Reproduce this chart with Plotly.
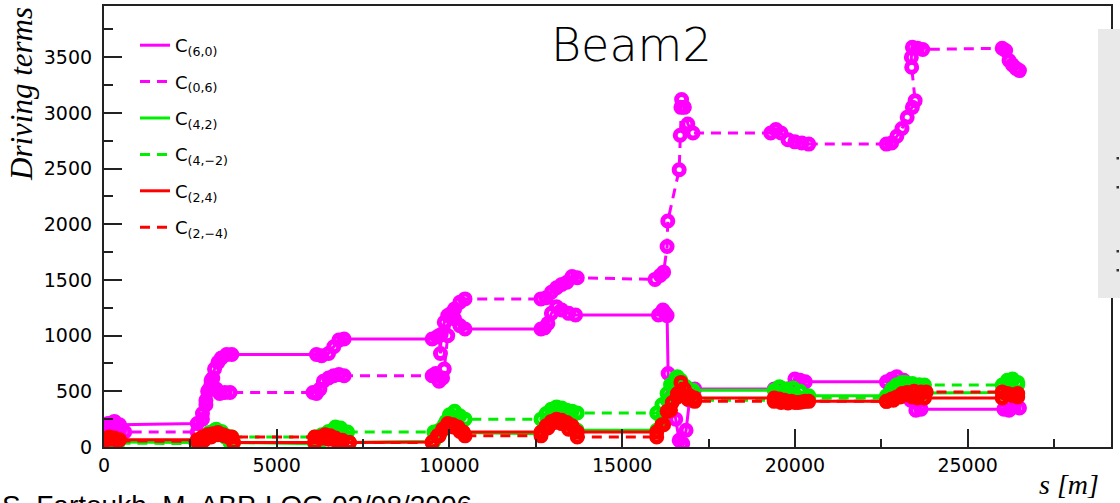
import plotly.graph_objects as go

# ---------------- data ----------------
s60 = [0, 120, 300, 450, 2700, 2850, 2950, 3050, 3100, 3200, 3300, 3400, 3550, 3700,
       6150, 6300, 6500, 6650, 6800, 6950,
       9500, 9650, 9700, 9740, 9760, 9850, 9950, 10050, 10150, 10300, 10450,
       12650, 12750, 12850, 12950, 13100, 13250, 13450, 13650,
       16050, 16180, 16250, 16300, 16330, 16420, 16550, 16650, 16750, 16850, 16950, 17100,
       19400, 19600, 19800, 20000, 20150, 20300,
       22650, 22800, 22950, 23150, 23350, 23500, 23650,
       26050, 26200, 26350, 26500]
v60 = [200, 210, 230, 200, 210, 300, 420, 520, 600, 700, 760, 800, 830, 830,
       830, 820, 840, 900, 960, 970,
       970, 990, 1000, 840, 1010, 1120, 1180, 1200, 1150, 1090, 1060,
       1060, 1070, 1110, 1200, 1260, 1230, 1200, 1185,
       1185, 1230, 1200, 1180, 660, 450, 250, 60, 30, 150, 420, 520,
       520, 530, 520, 610, 600, 585,
       585, 610, 630, 600, 420, 330, 340,
       340, 330, 360, 350]

s06 = [0, 150, 300, 450, 600, 2700, 2850, 2950, 3000, 3100, 3150, 3250, 3350, 3500, 3650,
       6050, 6150, 6250, 6350, 6500, 6650, 6800, 6950,
       9500, 9600, 9700, 9800, 9850, 9950, 10050, 10150, 10300, 10450,
       12650, 12800, 12950, 13100, 13250, 13400, 13550, 13700,
       15950, 16100, 16200, 16300, 16320, 16650, 16680, 16700, 16720, 16800, 16900, 17050,
       19300, 19450, 19600, 19800, 20000, 20200, 20400,
       22650, 22800, 22950, 23100, 23250, 23400, 23480, 23380, 23370, 23400, 23550, 23700,
       26000, 26100, 26200, 26300, 26400, 26500]
v06 = [130, 200, 180, 140, 135, 135, 250, 380, 500, 560, 620, 520, 480, 490, 490,
       490, 480, 520, 590, 620, 640, 650, 640,
       640, 660, 590, 620, 700, 1000, 1180, 1240, 1300, 1330,
       1330, 1340, 1390, 1430, 1460, 1480, 1530, 1520,
       1505, 1540, 1570, 1800, 2030, 2490, 2800, 3050, 3120, 3050, 2900, 2820,
       2820, 2850, 2820, 2760, 2740, 2730, 2720,
       2720, 2730, 2790, 2860, 2960, 3050, 3110, 3410, 3500, 3590, 3580, 3570,
       3580, 3560, 3470, 3430, 3400, 3380]

s42 = [0, 200, 400, 2700, 2900, 3050, 3200, 3350, 3500, 3650,
       6100, 6300, 6500, 6700, 6900, 7100,
       9550, 9750, 9900, 10050, 10200, 10400,
       12650, 12850, 13000, 13150, 13300, 13500, 13700,
       16000, 16150, 16300, 16400, 16550, 16700, 16850, 17050,
       19400, 19550, 19750, 19950, 20150, 20400,
       22650, 22800, 22950, 23100, 23300, 23500, 23700,
       26000, 26150, 26300, 26450]
v42 = [40, 60, 45, 40, 90, 130, 150, 140, 90, 40,
       30, 60, 120, 160, 120, 40,
       50, 130, 230, 280, 270, 130,
       120, 240, 310, 330, 300, 250, 150,
       150, 250, 420, 560, 620, 600, 540, 510,
       510, 540, 520, 530, 500, 460,
       460, 520, 560, 580, 560, 540, 485,
       490, 570, 600, 560]

s4m2 = [0, 200, 400, 2700, 2900, 3100, 3250, 3400, 3550, 3700,
        6100, 6300, 6500, 6700, 6850, 7050,
        9550, 9700, 9850, 10000, 10150, 10300, 10450,
        12650, 12800, 12950, 13100, 13250, 13400, 13550, 13700,
        16000, 16150, 16300, 16450, 16600, 16750, 16900, 17050,
        19400, 19600, 19800, 20000, 20200, 20400,
        22650, 22850, 23000, 23200, 23400, 23600, 23750,
        26000, 26150, 26300, 26450]
v4m2 = [30, 50, 35, 30, 70, 120, 160, 140, 100, 90,
        90, 110, 140, 180, 170, 135,
        135, 150, 200, 290, 320, 280, 250,
        250, 300, 340, 360, 350, 330, 320, 305,
        305, 380, 480, 560, 630, 560, 470, 420,
        420, 450, 460, 440, 430, 440,
        440, 490, 540, 580, 570, 560, 556,
        556, 600, 610, 580]

s24 = [0, 150, 300, 450, 2700, 2850, 3000, 3150, 3300, 3450, 3600, 3750,
       6100, 6250, 6400, 6550, 6700, 6900, 7100,
       9500, 9650, 9800, 9950, 10100, 10250, 10400,
       12650, 12800, 12950, 13100, 13250, 13400, 13550, 13700,
       16000, 16150, 16300, 16450, 16600, 16700, 16800, 16950, 17100,
       19400, 19550, 19700, 19900, 20100, 20300,
       22650, 22800, 22950, 23100, 23250, 23400, 23550, 23750,
       26000, 26150, 26300, 26450]
v24 = [70, 90, 80, 65, 65, 90, 110, 120, 130, 110, 90, 40,
       40, 90, 110, 100, 80, 60, 40,
       45, 100, 160, 210, 200, 180, 135,
       135, 190, 230, 250, 240, 220, 190, 135,
       135, 200, 320, 400, 480, 580, 520, 460, 440,
       440, 430, 420, 410, 400, 410,
       410, 430, 450, 480, 470, 450, 440, 440,
       440, 480, 470, 450]

s2m4 = [0, 200, 400, 2700, 2900, 3100, 3300, 3500, 3700,
        6100, 6300, 6500, 6700, 6900, 7100,
        9500, 9700, 9900, 10100, 10300, 10450,
        12650, 12850, 13050, 13250, 13450, 13700,
        16000, 16200, 16400, 16600, 16750, 16900, 17100,
        19400, 19600, 19800, 20000, 20200, 20400,
        22650, 22850, 23050, 23250, 23450, 23650, 23800,
        26000, 26150, 26300, 26450]
v2m4 = [50, 70, 55, 50, 60, 90, 110, 100, 90,
        90, 80, 70, 60, 50, 40,
        40, 100, 170, 180, 140, 100,
        100, 170, 220, 210, 160, 90,
        90, 200, 330, 450, 470, 430, 410,
        410, 400, 395, 400, 405, 410,
        410, 420, 450, 490, 500, 494, 494,
        494, 470, 460, 480]

names = ["C<sub>(6,0)</sub>", "C<sub>(0,6)</sub>", "C<sub>(4,2)</sub>",
         "C<sub>(4,\u22122)</sub>", "C<sub>(2,4)</sub>", "C<sub>(2,\u22124)</sub>"]
xs = [s60, s06, s42, s4m2, s24, s2m4]
ys = [v60, v06, v42, v4m2, v24, v2m4]
colors = ["#ff00ff", "#ff00ff", "#00ee00", "#00ee00", "#ff0000", "#ff0000"]
dashes = ["solid", "10px,7px", "solid", "10px,7px", "solid", "10px,7px"]

x_ticks = [0, 5000, 10000, 15000, 20000, 25000]
y_ticks = [0, 500, 1000, 1500, 2000, 2500, 3000, 3500]

# ---------------- figure ----------------
fig = go.Figure()
for name, x, y, c, d in zip(names, xs, ys, colors, dashes):
    fig.add_trace(go.Scatter(x=x, y=y, mode="lines", name=name, legendgroup=name,
                             line=dict(color=c, width=3, dash=d), hoverinfo="skip"))
    fig.add_trace(go.Scatter(x=x, y=y, mode="markers", showlegend=False, legendgroup=name,
                             marker=dict(symbol="circle-open", size=10, color=c,
                                         line=dict(color=c, width=5)),
                             hoverinfo="skip"))

W, H = 1120, 503
L, R, T, B = 104, 9, 6, 56
pw, ph = W - L - R, H - T - B


def px(xp):
    return (xp - L) / pw


def py(yp):
    return 1 - (yp - T) / ph


axis_common = dict(showline=True, linecolor="#222222", linewidth=2, mirror=True,
                   ticks="inside", ticklen=18, tickwidth=1.5, tickcolor="#222222",
                   showgrid=False, zeroline=False,
                   tickfont=dict(family="DejaVu Sans", size=19, color="black"))

fig.update_layout(
    width=W, height=H,
    margin=dict(l=L, r=R, t=T, b=B, autoexpand=False),
    paper_bgcolor="white", plot_bgcolor="white",
    xaxis=dict(range=[0, 29150], tickmode="array", tickvals=x_ticks,
               ticktext=[str(v) for v in x_ticks], automargin=False,
               minor=dict(dtick=2500, ticks="inside", ticklen=8, tickwidth=1.5,
                          tickcolor="#222222"),
               **axis_common),
    yaxis=dict(range=[0, 3960], tickmode="array", tickvals=y_ticks,
               ticktext=[str(v) + "\u00a0" for v in y_ticks], automargin=False,
               minor=dict(dtick=250, ticks="inside", ticklen=9, tickwidth=1.5,
                          tickcolor="#222222"),
               **axis_common),
    legend=dict(x=px(135), y=py(27), xanchor="left", yanchor="top",
                bgcolor="rgba(0,0,0,0)", borderwidth=0,
                font=dict(family="DejaVu Sans", size=18, color="black"),
                tracegroupgap=10, itemwidth=30),
    showlegend=True,
)

fig.add_annotation(text="Beam2", xref="paper", yref="paper", x=px(549), y=py(45),
                   xanchor="left", yanchor="middle", showarrow=False,
                   font=dict(family="DejaVu Sans", size=46, color="black", weight=200))
fig.add_annotation(text="Driving terms", xref="paper", yref="paper", x=px(21), y=py(5),
                   xanchor="center", yanchor="top", textangle=-90, showarrow=False,
                   font=dict(family="Liberation Serif", size=31, color="black", style="italic"))
fig.add_annotation(text="s [m]", xref="paper", yref="paper", x=px(1101), y=py(484),
                   xanchor="right", yanchor="middle", showarrow=False,
                   font=dict(family="Liberation Serif", size=28, color="black", style="italic"))
fig.add_annotation(text="S. Fartoukh, M. ABP-LOG 02/08/2006", xref="paper", yref="paper",
                   x=px(0), y=py(488), xanchor="left", yanchor="top", showarrow=False,
                   font=dict(family="Liberation Sans", size=28, color="black"))

# grey box of a neighbouring panel on the right edge
fig.add_shape(type="rect", xref="paper", yref="paper", x0=px(1098), x1=px(1122),
              y0=py(298), y1=py(29), fillcolor="#e9e9e9", line=dict(width=0), layer="above")
for yy in [158, 187, 251, 270]:
    fig.add_shape(type="rect", xref="paper", yref="paper", x0=px(1116.5), x1=px(1119),
                  y0=py(yy + 1.5), y1=py(yy - 1), fillcolor="#333333", line=dict(width=0),
                  layer="above")

fig.write_html("out.html", config={"displayModeBar": False},
               post_script="document.body.style.margin='0px';")
